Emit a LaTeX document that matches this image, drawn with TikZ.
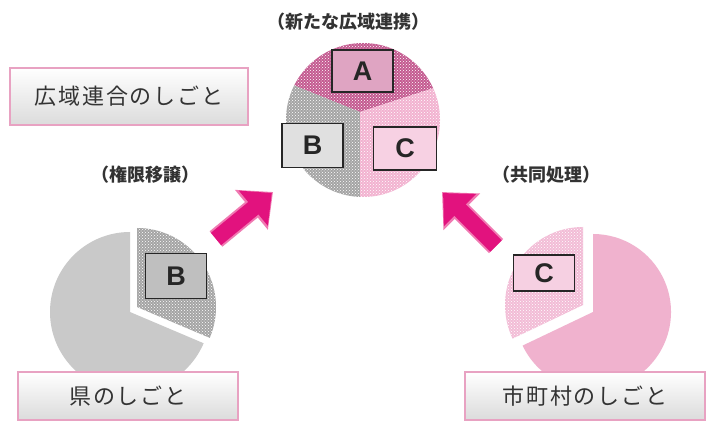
\documentclass[tikz,border=0pt]{standalone}
\usepackage{fontspec}
\newfontfamily\jp{Noto Sans CJK JP}
\newfontfamily\jpw[LetterSpace=8]{Noto Sans CJK JP}
\newfontfamily\lat{Liberation Sans}
\usetikzlibrary{arrows.meta,patterns}
\definecolor{secA}{HTML}{C45A90}
\definecolor{secB}{HTML}{A4A4A4}
\definecolor{secC}{HTML}{F2B2D0}
\definecolor{grayMain}{HTML}{C9C9C9}
\definecolor{pinkMain}{HTML}{F0B2CE}
\definecolor{pinkSlice}{HTML}{F2BCD6}
\definecolor{arrowMag}{HTML}{E2127E}
\definecolor{arrowRim}{HTML}{F07AB2}
\definecolor{boxRim}{HTML}{E8A2C2}
\tikzset{
  dots/.style={postaction={pattern=crosshatch dots, pattern color=white}},
  labbox/.style={draw=boxRim, line width=1.4pt, top color=white, bottom color=black!14,
    font=\jpw\fontsize{22}{22}\selectfont, text=black!80, inner sep=0pt},
  letbox/.style={draw=black!85, line width=1.4pt, inner sep=0pt,
    font=\lat\bfseries\fontsize{27}{27}\selectfont, text=black!85},
  paren/.style={font=\jp\bfseries\fontsize{18}{18}\selectfont, text=black!80},
  bigarrow/.style={line width=16pt, arrowMag, -{Triangle[length=24pt,width=44pt]}, shorten >=1.5pt},
  rimarrow/.style={line width=20pt, arrowRim, -{Triangle[length=28pt,width=50pt]}}
}
\begin{document}
\begin{tikzpicture}[x=1pt,y=1pt]
\useasboundingbox (0,0) rectangle (708,423);
\fill[white] (0,0) rectangle (708,423);

% ---- centre pie
\coordinate (cc) at (363,303);
\coordinate (cd) at (360,311);
\begin{scope}
  \clip (cc) circle[radius=77];
  \fill[secA, dots] (cd) -- ([shift={(18:160)}]cd) -- ([shift={(90:160)}]cd) -- ([shift={(158:160)}]cd) -- cycle;
  \fill[secB, dots] (cd) -- ([shift={(158:160)}]cd) -- ([shift={(210:160)}]cd) -- ([shift={(270:160)}]cd) -- cycle;
  \fill[secC, dots] (cd) -- ([shift={(270:160)}]cd) -- ([shift={(330:160)}]cd) -- ([shift={(18:160)}]cd) -- cycle;
\end{scope}

% ---- left pie (prefecture)
\coordinate (lc) at (130,111);
\coordinate (ls) at (137,116);
\fill[grayMain] (lc) -- ([shift={(90:80)}]lc) arc[start angle=90, end angle=337, radius=80] -- cycle;
\fill[secB, dots] (ls) -- ([shift={(-23:79)}]ls) arc[start angle=-23, end angle=90, radius=79] -- cycle;

% ---- right pie (municipalities)
\coordinate (rc) at (593,111);
\coordinate (rs) at (583,118);
\fill[pinkMain] (rc) -- ([shift={(-154.5:78)}]rc) arc[start angle=-154.5, end angle=90, radius=78] -- cycle;
\fill[pinkSlice, dots] (rs) -- ([shift={(90:78)}]rs) arc[start angle=90, end angle=205.5, radius=78] -- cycle;

% ---- letter boxes
\node[letbox, fill=secA!55, minimum width=61pt, minimum height=42pt] (bA) at (362.5,352) {A};
\node[letbox, fill=black!12, minimum width=61pt, minimum height=44pt] (bB) at (312.5,277.5) {B};
\node[letbox, fill=secC!60, minimum width=63pt, minimum height=43pt] (bC) at (405,274.5) {C};
\node[letbox, fill=black!25, minimum width=61pt, minimum height=45pt] (lB) at (176,147) {B};
\node[letbox, fill=pinkSlice!70, minimum width=61pt, minimum height=36pt] (rC) at (544,150) {C};

% ---- label boxes
\node[labbox, minimum width=238pt, minimum height=57pt] (lbU) at (129,326.5) {広域連合のしごと};
\node[labbox, minimum width=220pt, minimum height=48pt] (lbP) at (128,27) {県のしごと};
\node[labbox, minimum width=240pt, minimum height=48pt] (lbM) at (585,27) {市町村のしごと};

% ---- captions
\node[paren] (tN) at (348,401) {（新たな広域連携）};
\node[paren] (tL) at (145,248) {（権限移譲）};
\node[paren] (tR) at (546,248) {（共同処理）};

% ---- arrows
\coordinate (laT) at (216,184);
\coordinate (laH) at (273,231);
\coordinate (raT) at (496,177);
\coordinate (raH) at (442,231);
\draw[rimarrow] (laT) -- (laH);
\draw[bigarrow] (laT) -- (laH);
\draw[rimarrow] (raT) -- (raH);
\draw[bigarrow] (raT) -- (raH);
\end{tikzpicture}
\end{document}
